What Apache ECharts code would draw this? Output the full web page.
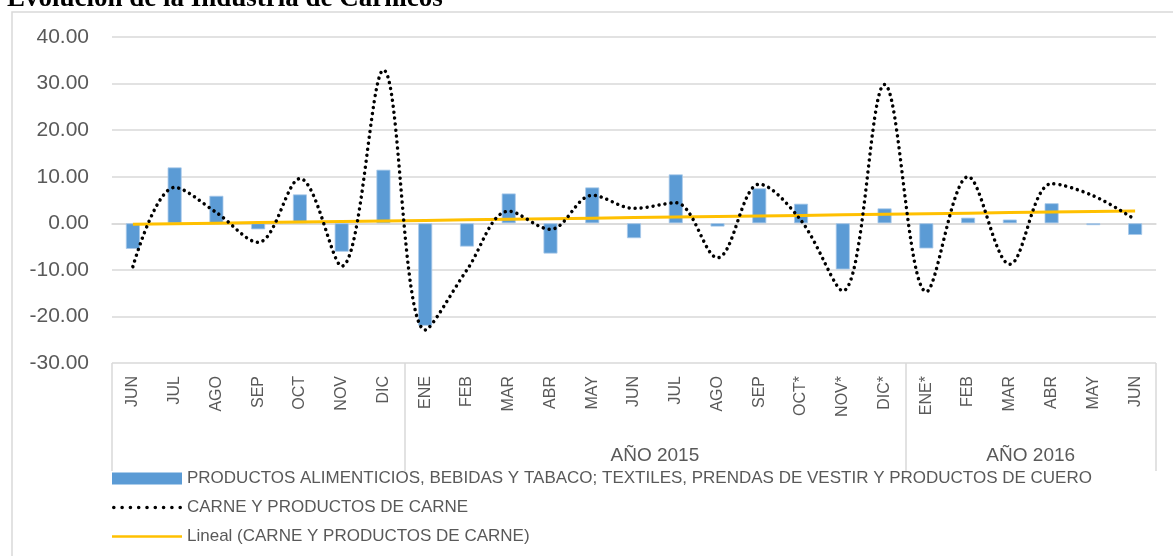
<!DOCTYPE html>
<html>
<head>
<meta charset="utf-8">
<script src="https://cdn.jsdelivr.net/npm/echarts@6/dist/echarts.min.js"></script>
<style>
  html, body { margin: 0; padding: 0; background: #fff; }
  #container { width: 1173px; height: 556px; }
</style>
</head>
<body>
<div id="container"></div>
<script>
// meses (eje de categorías)
const months = ['JUN', 'JUL', 'AGO', 'SEP', 'OCT', 'NOV', 'DIC',
  'ENE', 'FEB', 'MAR', 'ABR', 'MAY', 'JUN', 'JUL', 'AGO', 'SEP', 'OCT*', 'NOV*', 'DIC*',
  'ENE*', 'FEB', 'MAR', 'ABR', 'MAY', 'JUN']
// grupos del eje (año)
const groupLabels = ['', 'AÑO 2015', 'AÑO 2016']
const groupSizes = [7, 12, 6]

const alimentos = [-5.5, 12.0, 5.9, -1.3, 6.2, -6.1, 11.5,
  -22.0, -5.0, 6.4, -6.5, 7.7, -3.2, 10.5, -0.7, 7.5, 4.2, -9.9, 3.2,
  -5.4, 1.2, 0.8, 4.3, -0.4, -2.5]
const carne = [-9.3, 7.7, 2.3, -4.1, 9.6, -9.2, 32.9,
  -22.9, -10.0, 2.6, -1.3, 6.0, 3.2, 4.4, -7.4, 8.4, 0.6, -14.5, 29.8,
  -14.7, 10.0, -8.8, 8.5, 5.9, 0.8]

const yTicks = [-30, -20, -10, 0, 10, 20, 30, 40]

const nameBar = 'PRODUCTOS ALIMENTICIOS, BEBIDAS Y TABACO; TEXTILES, PRENDAS DE VESTIR Y PRODUCTOS DE CUERO'
const nameLine = 'CARNE Y PRODUCTOS DE CARNE'
const nameTrend = 'Lineal (CARNE Y PRODUCTOS DE CARNE)'

// tendencia lineal (mínimos cuadrados), como la de Excel
function linearTrend(vals) {
  let n = vals.length
  let mx = (n - 1) / 2
  let my = vals.reduce((a, b) => a + b, 0) / n
  let sxy = 0, sxx = 0
  vals.forEach((v, i) => { sxy += (i - mx) * (v - my); sxx += (i - mx) * (i - mx) })
  let b = sxy / sxx
  return vals.map((v, i) => +(my + b * (i - mx)).toFixed(3))
}
const trend = linearTrend(carne)

// bordes y centros de los grupos
let bounds = [0]
groupSizes.forEach(s => bounds.push(bounds[bounds.length - 1] + s))
let centers = []
let centerLabel = {}
groupLabels.forEach((g, i) => {
  if (!g) return
  let c = (bounds[i] + bounds[i + 1]) / 2
  centers.push(c)
  centerLabel[c] = g
})

// iconos de la leyenda: fila de puntos y línea fina
let dots = ''
for (let i = 0; i < 9; i++) {
  let cx = 2 + i * 8.25
  dots += 'M' + (cx - 1.8) + ',2 a1.8,1.8 0 1,0 3.6,0 a1.8,1.8 0 1,0 -3.6,0 '
}
const dotIcon = 'path://' + dots
const lineIcon = 'path://M0,0 L70,0 L70,2.5 L0,2.5 Z'

const gray = '#595959'
const gridColor = '#d9d9d9'
const font = 'Liberation Sans'

let options = {
  animation: false,
  title: {
    text: 'Evolución de la Industria de Cárnicos',
    left: 7,
    top: -14,
    padding: 0,
    textStyle: {
      fontFamily: 'Liberation Serif',
      fontWeight: 'bold',
      fontSize: 27,
      color: '#000'
    }
  },
  graphic: [
    {
      type: 'rect',
      shape: { x: 12, y: 12, width: 1200, height: 600 },
      style: { fill: 'none', stroke: gridColor, lineWidth: 1.5 },
      silent: true
    }
  ],
  legend: {
    orient: 'vertical',
    left: 112,
    top: 470,
    padding: 0,
    itemWidth: 70,
    itemHeight: 12,
    itemGap: 12,
    symbolKeepAspect: true,
    textStyle: { fontFamily: font, fontSize: 17, color: gray },
    data: [
      { name: nameBar, icon: 'rect', itemStyle: { borderWidth: 0 } },
      { name: nameLine, icon: dotIcon },
      { name: nameTrend, icon: lineIcon }
    ]
  },
  grid: {
    left: 112,
    right: 17,
    top: 37,
    bottom: 193
  },
  xAxis: [
    {
      type: 'category',
      data: months,
      axisLine: { show: true, lineStyle: { color: gridColor, width: 1.5 } },
      axisTick: { show: false },
      axisLabel: {
        rotate: 90,
        interval: 0,
        margin: 13,
        fontFamily: font,
        fontSize: 16,
        color: gray
      }
    },
    {
      type: 'value',
      min: 0,
      max: months.length,
      position: 'bottom',
      axisLine: { show: false },
      splitLine: { show: false },
      axisTick: {
        show: true,
        customValues: bounds,
        length: 108,
        lineStyle: { color: gridColor, width: 1.5 }
      },
      axisLabel: {
        customValues: centers,
        margin: 83,
        fontFamily: font,
        fontSize: 19,
        color: gray,
        formatter: v => centerLabel[v] || ''
      }
    }
  ],
  yAxis: {
    type: 'value',
    min: yTicks[0],
    max: yTicks[yTicks.length - 1],
    interval: 10,
    axisLine: { show: false },
    axisTick: { show: false },
    splitLine: { lineStyle: { color: gridColor, width: 1.5 } },
    axisLabel: {
      margin: 23,
      fontFamily: font,
      fontSize: 21,
      color: gray,
      formatter: v => v.toFixed(2)
    }
  },
  series: [
    {
      name: nameBar,
      type: 'bar',
      data: alimentos,
      barWidth: 14,
      itemStyle: { color: '#5b9bd5', borderColor: '#a9c9ea', borderWidth: 0.8 },
      z: 2
    },
    {
      name: nameTrend,
      type: 'line',
      data: trend,
      symbol: 'none',
      lineStyle: { color: '#ffc000', width: 3 },
      itemStyle: { color: '#ffc000' },
      z: 3
    },
    {
      name: nameLine,
      type: 'line',
      data: carne,
      smooth: 0.35,
      symbol: 'none',
      lineStyle: { color: '#000', width: 3.5, type: [0.01, 6], cap: 'round' },
      itemStyle: { color: '#000' },
      z: 4
    }
  ]
}

let mychart = echarts.init(document.getElementById('container'))
mychart.setOption(options)
window.addEventListener('resize', () => { mychart.resize() })
</script>
</body>
</html>
